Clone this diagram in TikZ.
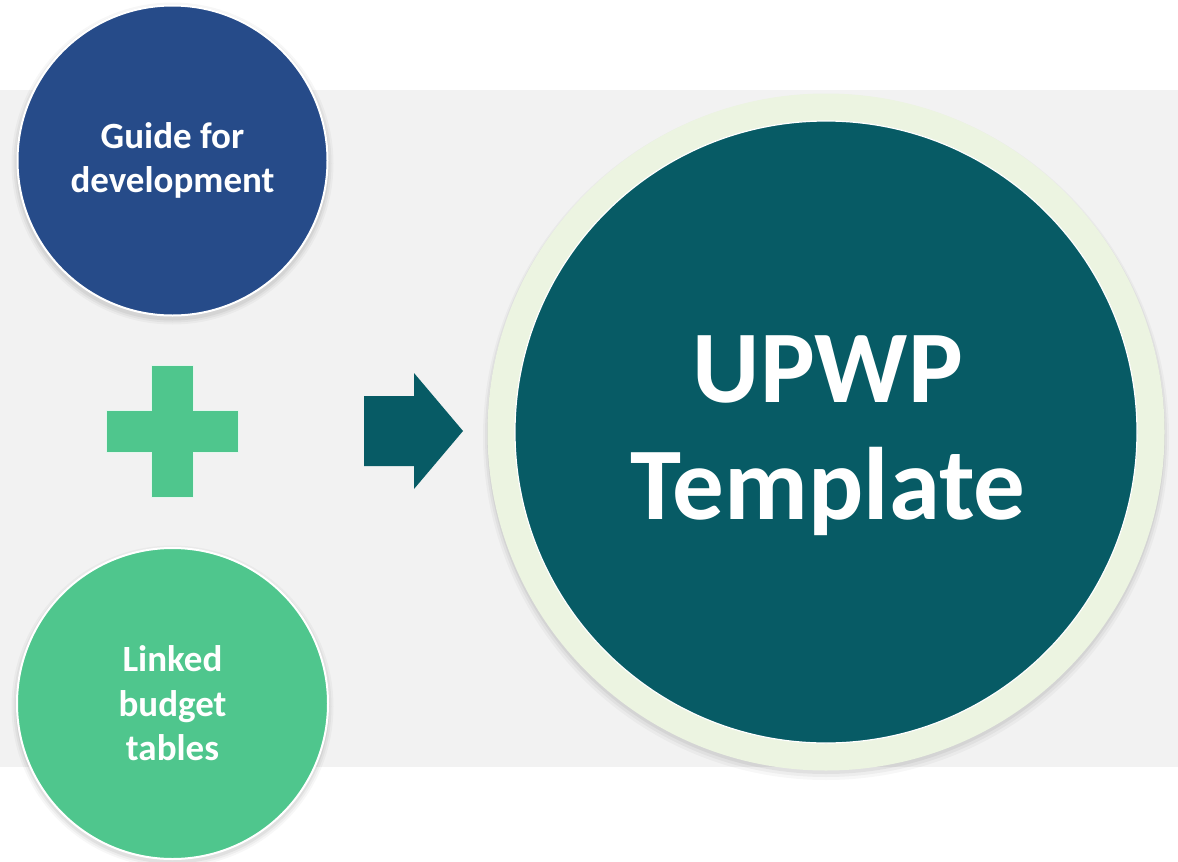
\documentclass[tikz,border=0pt]{standalone}
\usepackage{fontspec}
\setmainfont{Carlito}
\definecolor{bandgray}{HTML}{F2F2F2}
\definecolor{guideblue}{HTML}{264B89}
\definecolor{leafgreen}{HTML}{4FC68D}
\definecolor{deepteal}{HTML}{075B65}
\definecolor{ringcream}{HTML}{ECF4E1}
\begin{document}
\begin{tikzpicture}[x=1pt,y=-1pt,
  bubble/.style={circle, inner sep=0pt, draw=white, line width=2pt, text=white,
    align=center, font=\bfseries\fontsize{37}{44.5}\selectfont},
  softshade/.style={fill=black, opacity=#1},
]
\useasboundingbox (0,0) rectangle (1178,862);
\fill[white] (0,0) rectangle (1178,862);
\fill[bandgray] (0,90) rectangle (1178,767);
% soft shadows
\foreach \c in {(172.5,163.5),(172.5,706.5)}{
  \fill[softshade=0.03] \c circle (161);
  \fill[softshade=0.04] \c circle (159);
  \fill[softshade=0.05] \c circle (157);
}
\fill[softshade=0.03] (826,437) circle (343);
\fill[softshade=0.04] (826,436) circle (341);
\fill[softshade=0.05] (826,435) circle (339);
% circles
\node[bubble, fill=guideblue, minimum size=310pt] (guide) at (172.5,160.5) {Guide for\\development};
\node[bubble, fill=leafgreen, minimum size=311pt] (budget) at (172.5,703.5) {Linked\\budget\\tables};
\node[circle, inner sep=0pt, fill=ringcream, minimum size=677pt] (ring) at (826,432) {};
\node[circle, inner sep=0pt, fill=deepteal, draw=white, line width=1.2pt, minimum size=622pt] (upwp) at (826,432) {};
\node[text=white, align=center, inner sep=0pt, font=\bfseries\fontsize{103}{117}\selectfont]
  (upwptext) at (828,436) {UPWP\\Template};
% plus sign
\filldraw[fill=leafgreen, draw=white!85!leafgreen, line width=0.8pt]
  (151,365) -- (193,365) -- (193,410) -- (238,410) -- (238,452) -- (193,452)
  -- (193,497) -- (151,497) -- (151,452) -- (106,452) -- (106,410) -- (151,410) -- cycle;
% block arrow
\fill[deepteal] (364,396) -- (414,396) -- (414,373) -- (463,431) -- (414,489)
  -- (414,466) -- (364,466) -- cycle;
\end{tikzpicture}
\end{document}
